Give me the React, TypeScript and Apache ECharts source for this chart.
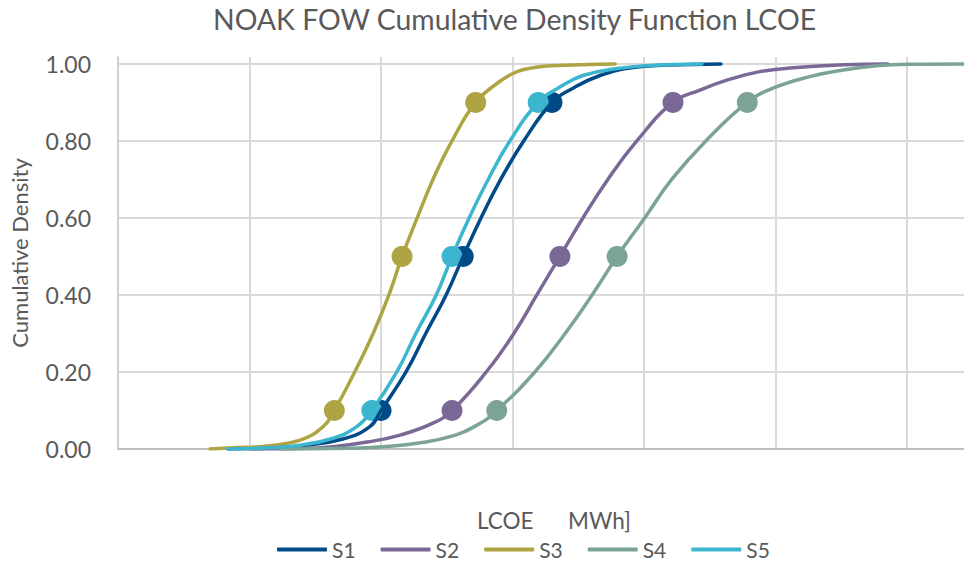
import React, { useEffect, useRef } from "react";
import * as echarts from "echarts";

const seriesNames = ["S1", "S2", "S3", "S4", "S5"];
const seriesColors = ["#004b87", "#7a6896", "#afa443", "#7ba497", "#3cb5ce"];

// [LCOE, cumulative density]
const s1: [number, number][] = [
  [16.7, 0], [22.7, 0.002], [27.7, 0.008], [34.2, 0.026], [38.3, 0.058], [40.0, 0.1],
  [43.8, 0.2], [46.8, 0.3], [49.9, 0.4], [52.5, 0.5], [55.2, 0.6], [58.2, 0.7],
  [61.7, 0.8], [66.0, 0.9], [69.2, 0.937], [73.3, 0.97], [78.3, 0.991], [83.5, 0.997], [91.7, 1.0],
];
const s2: [number, number][] = [
  [20.1, 0], [27.7, 0.001], [32.7, 0.006], [37.9, 0.018], [42.9, 0.036], [47.9, 0.067],
  [50.8, 0.1], [56.0, 0.2], [60.2, 0.3], [63.7, 0.4], [67.2, 0.5], [70.7, 0.6], [74.5, 0.7],
  [78.9, 0.8], [84.4, 0.9], [88.5, 0.932], [92.6, 0.958], [97.6, 0.98], [102.7, 0.99],
  [110.3, 0.998], [117.1, 1.0],
];
const s3: [number, number][] = [
  [14.0, 0], [17.5, 0.003], [22.7, 0.008], [27.7, 0.023], [31.2, 0.058], [32.9, 0.1],
  [36.0, 0.2], [38.8, 0.3], [41.2, 0.4], [43.2, 0.5], [45.5, 0.6], [47.9, 0.7], [50.8, 0.8],
  [54.4, 0.9], [58.1, 0.955], [60.7, 0.98], [63.1, 0.99], [65.7, 0.995], [75.6, 1.0],
];
const s4: [number, number][] = [
  [24.6, 0], [35.3, 0.002], [40.3, 0.006], [45.5, 0.015], [50.5, 0.032], [54.6, 0.062],
  [57.6, 0.1], [63.4, 0.2], [68.0, 0.3], [72.1, 0.4], [75.9, 0.5], [80.1, 0.6], [84.2, 0.7],
  [89.4, 0.8], [95.7, 0.9], [99.6, 0.937], [105.2, 0.967], [110.3, 0.984], [115.4, 0.995],
  [120.5, 0.999], [128.7, 1.0],
];
const s5: [number, number][] = [
  [16.6, 0], [22.7, 0.003], [27.7, 0.01], [32.7, 0.028], [36.3, 0.058], [38.6, 0.1],
  [42.4, 0.2], [45.3, 0.3], [48.4, 0.4], [50.8, 0.5], [53.4, 0.6], [56.3, 0.7], [59.6, 0.8],
  [63.9, 0.9], [67.2, 0.94], [70.7, 0.97], [75.9, 0.988], [80.9, 0.996], [88.8, 1.0],
];
const allSeries = [s1, s2, s3, s4, s5];
const markerLevels = [0.1, 0.5, 0.9];

const xMin = 0;
const xMax = 128.66;
const xInterval = 20;
const yMin = 0;
const yMax = 1.018;
const yInterval = 0.2;

const FONT = "Lato, 'Noto Sans', sans-serif";
const TEXT = "#595959";

export default function App() {
  const ref = useRef<HTMLDivElement>(null);
  useEffect(() => {
    if (!ref.current) return;
    const chart = echarts.init(ref.current, undefined, { renderer: "svg" });
    const series: any[] = [];
    allSeries.forEach((d, i) => {
      series.push({
        type: "line",
        name: seriesNames[i],
        data: d,
        smooth: 0.45,
        symbol: "none",
        lineStyle: { width: 3.5, color: seriesColors[i], cap: "round" },
        itemStyle: { color: seriesColors[i] },
      });
      series.push({
        type: "scatter",
        name: seriesNames[i] + " markers",
        data: d.filter((p) => markerLevels.includes(p[1])),
        symbol: "circle",
        symbolSize: 21,
        itemStyle: { color: seriesColors[i], opacity: 1 },
      });
    });
    chart.setOption({
      animation: false,
      backgroundColor: "#ffffff",
      title: {
        text: "NOAK FOW Cumulative Density Function LCOE",
        left: 208,
        top: 0,
        textStyle: { fontFamily: FONT, fontSize: 28.4, fontWeight: "normal", color: TEXT },
      },
      legend: {
        data: seriesNames,
        left: 272,
        top: 534,
        icon: "roundRect",
        itemWidth: 50,
        itemHeight: 4,
        itemGap: 25,
        textStyle: { fontFamily: FONT, fontSize: 21, color: TEXT },
      },
      grid: { left: 118, right: 0, top: 57, bottom: 116, containLabel: false },
      xAxis: {
        type: "value",
        min: xMin,
        max: xMax,
        interval: xInterval,
        name: "LCOE      MWh]",
        nameLocation: "middle",
        nameGap: 60,
        nameTextStyle: { fontFamily: FONT, fontSize: 22.5, color: TEXT, padding: [0, 0, 0, 26] },
        axisLabel: { show: false },
        axisTick: { show: false },
        axisLine: { show: true, lineStyle: { color: "#bfbfbf", width: 2 } },
        splitLine: { show: true, showMaxLine: false, lineStyle: { color: "#d9d9d9", width: 2 } },
      },
      yAxis: {
        type: "value",
        min: yMin,
        max: yMax,
        interval: yInterval,
        name: "Cumulative Density",
        nameLocation: "middle",
        nameGap: 88,
        nameTextStyle: { fontFamily: FONT, fontSize: 22, color: TEXT },
        axisLabel: {
          showMaxLabel: false,
          margin: 27,
          fontFamily: FONT,
          fontSize: 23,
          color: TEXT,
          formatter: (v: number) => v.toFixed(2),
        },
        axisTick: { show: false },
        axisLine: { show: true, lineStyle: { color: "#d0d0d0", width: 2 } },
        splitLine: { show: true, showMaxLine: false, lineStyle: { color: "#d9d9d9", width: 2 } },
      },
      series,
    });
    return () => chart.dispose();
  }, []);
  return <div ref={ref} style={{ width: 964, height: 565, position: "absolute", left: 0, top: 0 }} />;
}
